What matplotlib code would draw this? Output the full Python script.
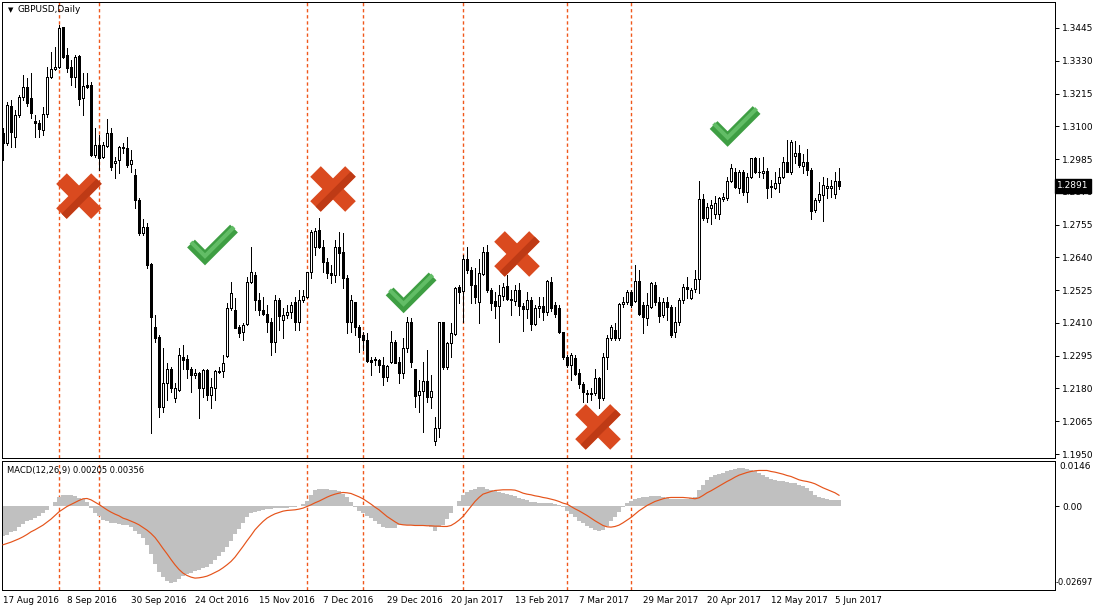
import numpy as np
import matplotlib
matplotlib.use('Agg')
import matplotlib.pyplot as plt

plt.rcParams['font.family'] = ['DejaVu Sans']
plt.rcParams['lines.scale_dashes'] = False

#--- daily candles GBPUSD (bar index 0 = 17 Aug 2016)
opens = [
    1.3075, 1.3040, 1.3171, 1.3064, 1.3140, 1.3202, 1.3237, 1.3198, 1.3119, 1.3110,
    1.3087, 1.3142, 1.3274, 1.3301, 1.3309, 1.3447, 1.3350, 1.3307, 1.3274, 1.3347,
    1.3198, 1.3245, 1.3245, 1.2999, 1.3034, 1.2991, 1.3031, 1.3075, 1.2970, 1.2982,
    1.3023, 1.3023, 1.2968, 1.2929, 1.2841, 1.2727, 1.2745, 1.2617, 1.2394, 1.2362,
    1.2116, 1.2198, 1.2250, 1.2147, 1.2174, 1.2291, 1.2283, 1.2248, 1.2227, 1.2233,
    1.2183, 1.2245, 1.2157, 1.2180, 1.2239, 1.2241, 1.2295, 1.2461, 1.2455, 1.2397,
    1.2377, 1.2405, 1.2555, 1.2578, 1.2490, 1.2455, 1.2440, 1.2414, 1.2342, 1.2490,
    1.2420, 1.2438, 1.2449, 1.2482, 1.2412, 1.2490, 1.2502, 1.2590, 1.2677, 1.2736,
    1.2677, 1.2625, 1.2584, 1.2578, 1.2677, 1.2660, 1.2566, 1.2414, 1.2482, 1.2397,
    1.2367, 1.2350, 1.2280, 1.2283, 1.2280, 1.2264, 1.2221, 1.2274, 1.2342, 1.2274,
    1.2233, 1.2321, 1.2414, 1.2248, 1.2157, 1.2171, 1.2206, 1.2151, 1.1995, 1.2040,
    1.2412, 1.2256, 1.2338, 1.2370, 1.2537, 1.2522, 1.2636, 1.2596, 1.2543, 1.2482,
    1.2580, 1.2660, 1.2525, 1.2487, 1.2469, 1.2505, 1.2541, 1.2494, 1.2487, 1.2525,
    1.2470, 1.2459, 1.2490, 1.2405, 1.2463, 1.2470, 1.2447, 1.2555, 1.2473, 1.2461,
    1.2377, 1.2291, 1.2264, 1.2288, 1.2233, 1.2194, 1.2163, 1.2159, 1.2163, 1.2215,
    1.2145, 1.2291, 1.2356, 1.2385, 1.2356, 1.2475, 1.2482, 1.2519, 1.2487, 1.2557,
    1.2473, 1.2429, 1.2467, 1.2543, 1.2482, 1.2438, 1.2482, 1.2467, 1.2379, 1.2412,
    1.2490, 1.2535, 1.2496, 1.2529, 1.2564, 1.2845, 1.2779, 1.2814, 1.2794, 1.2794,
    1.2845, 1.2849, 1.2908, 1.2938, 1.2885, 1.2941, 1.2870, 1.2923, 1.2990, 1.2941,
    1.2935, 1.2943, 1.2892, 1.2885, 1.2900, 1.2923, 1.2976, 1.2941, 1.2997, 1.3005,
    1.2962, 1.2973, 1.2947, 1.2806, 1.2841, 1.2859, 1.2882, 1.2882, 1.2861, 1.2908,
]
highs = [
    1.3093, 1.3186, 1.3192, 1.3157, 1.3210, 1.3280, 1.3268, 1.3286, 1.3140, 1.3122,
    1.3167, 1.3309, 1.3362, 1.3380, 1.3456, 1.3450, 1.3374, 1.3333, 1.3350, 1.3350,
    1.3286, 1.3286, 1.3257, 1.3093, 1.3069, 1.3046, 1.3124, 1.3093, 1.2993, 1.3031,
    1.3040, 1.3061, 1.3017, 1.2949, 1.2847, 1.2773, 1.2759, 1.2621, 1.2438, 1.2367,
    1.2321, 1.2268, 1.2256, 1.2198, 1.2323, 1.2332, 1.2297, 1.2256, 1.2250, 1.2239,
    1.2250, 1.2249, 1.2215, 1.2245, 1.2256, 1.2297, 1.2479, 1.2555, 1.2496, 1.2403,
    1.2408, 1.2572, 1.2677, 1.2590, 1.2514, 1.2502, 1.2473, 1.2426, 1.2508, 1.2496,
    1.2461, 1.2473, 1.2485, 1.2502, 1.2525, 1.2525, 1.2590, 1.2736, 1.2742, 1.2777,
    1.2701, 1.2637, 1.2613, 1.2701, 1.2730, 1.2724, 1.2578, 1.2508, 1.2484, 1.2402,
    1.2379, 1.2373, 1.2291, 1.2291, 1.2283, 1.2291, 1.2262, 1.2381, 1.2350, 1.2291,
    1.2356, 1.2432, 1.2426, 1.2250, 1.2209, 1.2274, 1.2315, 1.2227, 1.2081, 1.2414,
    1.2414, 1.2344, 1.2408, 1.2537, 1.2543, 1.2648, 1.2677, 1.2607, 1.2601, 1.2636,
    1.2677, 1.2683, 1.2531, 1.2519, 1.2543, 1.2549, 1.2578, 1.2525, 1.2543, 1.2549,
    1.2479, 1.2519, 1.2502, 1.2473, 1.2502, 1.2502, 1.2560, 1.2572, 1.2482, 1.2473,
    1.2379, 1.2297, 1.2303, 1.2297, 1.2250, 1.2204, 1.2174, 1.2180, 1.2250, 1.2221,
    1.2303, 1.2367, 1.2402, 1.2408, 1.2479, 1.2502, 1.2525, 1.2525, 1.2615, 1.2596,
    1.2484, 1.2514, 1.2555, 1.2555, 1.2502, 1.2496, 1.2502, 1.2473, 1.2467, 1.2496,
    1.2545, 1.2572, 1.2531, 1.2596, 1.2908, 1.2861, 1.2830, 1.2841, 1.2856, 1.2853,
    1.2865, 1.2923, 1.2966, 1.2952, 1.2947, 1.2947, 1.2935, 1.2990, 1.2993, 1.2988,
    1.2993, 1.2955, 1.2912, 1.2941, 1.2952, 1.2993, 1.3052, 1.3052, 1.3048, 1.3034,
    1.3002, 1.3020, 1.2952, 1.2849, 1.2906, 1.2923, 1.2917, 1.2911, 1.2941, 1.2952,
]
lows = [
    1.2982, 1.3034, 1.3026, 1.3029, 1.3134, 1.3192, 1.3171, 1.3128, 1.3064, 1.3064,
    1.3069, 1.3134, 1.3268, 1.3298, 1.3303, 1.3339, 1.3292, 1.3245, 1.3239, 1.3175,
    1.3140, 1.3233, 1.2996, 1.2993, 1.2947, 1.2988, 1.3029, 1.2947, 1.2917, 1.2935,
    1.3005, 1.2958, 1.2941, 1.2812, 1.2718, 1.2718, 1.2601, 1.2022, 1.2344, 1.2081,
    1.2098, 1.2139, 1.2169, 1.2133, 1.2172, 1.2250, 1.2215, 1.2169, 1.2215, 1.2075,
    1.2151, 1.2139, 1.2110, 1.2139, 1.2233, 1.2221, 1.2291, 1.2455, 1.2391, 1.2362,
    1.2350, 1.2403, 1.2549, 1.2455, 1.2438, 1.2438, 1.2379, 1.2297, 1.2309, 1.2385,
    1.2356, 1.2426, 1.2426, 1.2385, 1.2385, 1.2484, 1.2498, 1.2566, 1.2648, 1.2672,
    1.2590, 1.2566, 1.2549, 1.2555, 1.2578, 1.2531, 1.2373, 1.2379, 1.2367, 1.2309,
    1.2315, 1.2274, 1.2227, 1.2262, 1.2239, 1.2192, 1.2206, 1.2271, 1.2268, 1.2198,
    1.2215, 1.2309, 1.2256, 1.2116, 1.2098, 1.2028, 1.2133, 1.2112, 1.1981, 1.2011,
    1.2250, 1.2250, 1.2291, 1.2367, 1.2479, 1.2414, 1.2584, 1.2479, 1.2479, 1.2408,
    1.2578, 1.2519, 1.2455, 1.2426, 1.2344, 1.2490, 1.2490, 1.2438, 1.2473, 1.2438,
    1.2381, 1.2426, 1.2385, 1.2402, 1.2432, 1.2420, 1.2438, 1.2452, 1.2432, 1.2373,
    1.2285, 1.2256, 1.2209, 1.2227, 1.2180, 1.2133, 1.2133, 1.2139, 1.2157, 1.2110,
    1.2140, 1.2250, 1.2350, 1.2350, 1.2350, 1.2467, 1.2475, 1.2467, 1.2484, 1.2438,
    1.2373, 1.2402, 1.2461, 1.2473, 1.2414, 1.2432, 1.2420, 1.2362, 1.2362, 1.2402,
    1.2479, 1.2496, 1.2494, 1.2519, 1.2514, 1.2771, 1.2765, 1.2756, 1.2777, 1.2775,
    1.2838, 1.2841, 1.2903, 1.2882, 1.2865, 1.2859, 1.2833, 1.2920, 1.2935, 1.2923,
    1.2917, 1.2849, 1.2853, 1.2880, 1.2870, 1.2917, 1.2938, 1.2931, 1.2970, 1.2958,
    1.2935, 1.2929, 1.2775, 1.2798, 1.2835, 1.2768, 1.2849, 1.2853, 1.2847, 1.2880,
]
closes = [
    1.3043, 1.3175, 1.3081, 1.3140, 1.3202, 1.3237, 1.3181, 1.3146, 1.3110, 1.3089,
    1.3142, 1.3274, 1.3300, 1.3309, 1.3444, 1.3344, 1.3303, 1.3274, 1.3344, 1.3195,
    1.3241, 1.3239, 1.2999, 1.3034, 1.2988, 1.3034, 1.3078, 1.2958, 1.2978, 1.3029,
    1.3029, 1.2964, 1.2982, 1.2841, 1.2724, 1.2745, 1.2613, 1.2432, 1.2356, 1.2116,
    1.2198, 1.2250, 1.2180, 1.2180, 1.2297, 1.2280, 1.2248, 1.2227, 1.2233, 1.2183,
    1.2245, 1.2157, 1.2186, 1.2241, 1.2242, 1.2268, 1.2461, 1.2514, 1.2393, 1.2373,
    1.2403, 1.2552, 1.2590, 1.2490, 1.2455, 1.2440, 1.2414, 1.2342, 1.2490, 1.2435,
    1.2438, 1.2447, 1.2473, 1.2414, 1.2490, 1.2506, 1.2587, 1.2728, 1.2733, 1.2677,
    1.2625, 1.2584, 1.2578, 1.2677, 1.2654, 1.2566, 1.2414, 1.2490, 1.2397, 1.2362,
    1.2350, 1.2276, 1.2274, 1.2280, 1.2264, 1.2221, 1.2259, 1.2344, 1.2271, 1.2233,
    1.2321, 1.2414, 1.2274, 1.2154, 1.2171, 1.2206, 1.2151, 1.2171, 1.2042, 1.2412,
    1.2256, 1.2338, 1.2373, 1.2534, 1.2519, 1.2636, 1.2596, 1.2543, 1.2502, 1.2584,
    1.2660, 1.2525, 1.2479, 1.2469, 1.2508, 1.2537, 1.2494, 1.2489, 1.2525, 1.2470,
    1.2459, 1.2490, 1.2405, 1.2463, 1.2469, 1.2447, 1.2557, 1.2461, 1.2440, 1.2377,
    1.2291, 1.2262, 1.2297, 1.2229, 1.2194, 1.2166, 1.2159, 1.2163, 1.2215, 1.2145,
    1.2291, 1.2356, 1.2397, 1.2356, 1.2475, 1.2484, 1.2519, 1.2473, 1.2557, 1.2443,
    1.2432, 1.2473, 1.2549, 1.2482, 1.2435, 1.2482, 1.2467, 1.2367, 1.2414, 1.2490,
    1.2537, 1.2529, 1.2525, 1.2564, 1.2845, 1.2779, 1.2818, 1.2824, 1.2830, 1.2847,
    1.2853, 1.2908, 1.2952, 1.2888, 1.2941, 1.2870, 1.2923, 1.2988, 1.2941, 1.2938,
    1.2943, 1.2885, 1.2888, 1.2900, 1.2923, 1.2976, 1.2941, 1.3044, 1.3005, 1.2964,
    1.2973, 1.2947, 1.2803, 1.2841, 1.2861, 1.2894, 1.2890, 1.2890, 1.2908, 1.2891,
]

#--- MACD(12,26,9): main (histogram) and signal
macd_main = [
    -0.00972, -0.00918, -0.00843, -0.00790, -0.00682, -0.00564, -0.00489, -0.00435, -0.00392, -0.00317,
    -0.00220, -0.00113, -0.00005, 0.00134, 0.00285, 0.00349, 0.00371, 0.00371, 0.00328, 0.00263,
    0.00220, 0.00124, -0.00059, -0.00220, -0.00328, -0.00435, -0.00489, -0.00532, -0.00553, -0.00575,
    -0.00596, -0.00618, -0.00682, -0.00790, -0.00897, -0.01026, -0.01262, -0.01541, -0.01863, -0.02121,
    -0.02293, -0.02400, -0.02476, -0.02443, -0.02336, -0.02250, -0.02186, -0.02153, -0.02100, -0.02057,
    -0.02003, -0.01949, -0.01853, -0.01745, -0.01595, -0.01477, -0.01316, -0.01112, -0.00897, -0.00725,
    -0.00532, -0.00360, -0.00231, -0.00177, -0.00145, -0.00124, -0.00102, -0.00081, -0.00070, -0.00059,
    -0.00059, -0.00048, -0.00038, -0.00027, 0.00005, 0.00059, 0.00177, 0.00371, 0.00521, 0.00553,
    0.00553, 0.00542, 0.00532, 0.00521, 0.00489, 0.00392, 0.00285, 0.00134, -0.00016, -0.00145,
    -0.00231, -0.00317, -0.00381, -0.00467, -0.00575, -0.00661, -0.00693, -0.00704, -0.00704, -0.00618,
    -0.00596, -0.00596, -0.00607, -0.00618, -0.00618, -0.00628, -0.00650, -0.00682, -0.00811, -0.00682,
    -0.00618, -0.00403, -0.00220, -0.00005, 0.00156, 0.00349, 0.00456, 0.00510, 0.00542, 0.00628,
    0.00628, 0.00564, 0.00521, 0.00478, 0.00456, 0.00435, 0.00392, 0.00360, 0.00317, 0.00274,
    0.00231, 0.00188, 0.00145, 0.00124, 0.00102, 0.00102, 0.00102, 0.00091, 0.00070, 0.00027,
    -0.00038, -0.00145, -0.00252, -0.00360, -0.00467, -0.00553, -0.00639, -0.00704, -0.00757, -0.00790,
    -0.00768, -0.00639, -0.00489, -0.00360, -0.00188, -0.00038, 0.00091, 0.00156, 0.00231, 0.00263,
    0.00285, 0.00306, 0.00328, 0.00338, 0.00317, 0.00285, 0.00263, 0.00242, 0.00231, 0.00231,
    0.00231, 0.00231, 0.00252, 0.00285, 0.00532, 0.00671, 0.00843, 0.00929, 0.00993, 0.01036,
    0.01079, 0.01133, 0.01176, 0.01208, 0.01230, 0.01219, 0.01187, 0.01165, 0.01122, 0.01069,
    0.01015, 0.00929, 0.00865, 0.00832, 0.00800, 0.00800, 0.00779, 0.00757, 0.00736, 0.00693,
    0.00661, 0.00585, 0.00499, 0.00371, 0.00306, 0.00252, 0.00230, 0.00215, 0.00210, 0.00205,
]
macd_signal = [
    -0.01240, -0.01198, -0.01155, -0.01101, -0.01047, -0.00983, -0.00908, -0.00822, -0.00757, -0.00682,
    -0.00607, -0.00510, -0.00413, -0.00295, -0.00177, -0.00091, -0.00005, 0.00059, 0.00124, 0.00188,
    0.00242, 0.00252, 0.00209, 0.00134, 0.00059, -0.00027, -0.00113, -0.00188, -0.00252, -0.00306,
    -0.00381, -0.00424, -0.00478, -0.00532, -0.00596, -0.00682, -0.00768, -0.00875, -0.01004, -0.01176,
    -0.01359, -0.01530, -0.01713, -0.01885, -0.02035, -0.02153, -0.02229, -0.02282, -0.02314, -0.02304,
    -0.02282, -0.02250, -0.02196, -0.02132, -0.02067, -0.01982, -0.01885, -0.01777, -0.01638, -0.01466,
    -0.01294, -0.01112, -0.00940, -0.00757, -0.00618, -0.00489, -0.00381, -0.00306, -0.00242, -0.00199,
    -0.00156, -0.00134, -0.00124, -0.00113, -0.00091, -0.00059, -0.00005, 0.00048, 0.00113, 0.00166,
    0.00231, 0.00295, 0.00349, 0.00392, 0.00424, 0.00446, 0.00435, 0.00413, 0.00360, 0.00306,
    0.00242, 0.00156, 0.00070, -0.00027, -0.00113, -0.00220, -0.00328, -0.00413, -0.00499, -0.00575,
    -0.00596, -0.00607, -0.00607, -0.00618, -0.00618, -0.00618, -0.00628, -0.00628, -0.00639, -0.00639,
    -0.00650, -0.00650, -0.00618, -0.00542, -0.00446, -0.00328, -0.00166, -0.00005, 0.00156, 0.00285,
    0.00392, 0.00435, 0.00478, 0.00510, 0.00521, 0.00532, 0.00532, 0.00532, 0.00521, 0.00478,
    0.00424, 0.00392, 0.00371, 0.00338, 0.00317, 0.00285, 0.00263, 0.00231, 0.00199, 0.00156,
    0.00102, 0.00070, -0.00005, -0.00081, -0.00145, -0.00220, -0.00295, -0.00381, -0.00467, -0.00542,
    -0.00618, -0.00661, -0.00671, -0.00650, -0.00607, -0.00532, -0.00446, -0.00360, -0.00252, -0.00145,
    -0.00059, 0.00027, 0.00091, 0.00156, 0.00199, 0.00242, 0.00274, 0.00285, 0.00285, 0.00285,
    0.00285, 0.00274, 0.00263, 0.00242, 0.00274, 0.00349, 0.00435, 0.00499, 0.00575, 0.00650,
    0.00725, 0.00800, 0.00865, 0.00940, 0.01004, 0.01047, 0.01090, 0.01122, 0.01144, 0.01155,
    0.01155, 0.01155, 0.01122, 0.01101, 0.01069, 0.01036, 0.00993, 0.00961, 0.00908, 0.00854,
    0.00822, 0.00800, 0.00768, 0.00725, 0.00661, 0.00596, 0.00542, 0.00489, 0.00435, 0.00356,
]

date_labels = ['17 Aug 2016', '8 Sep 2016', '30 Sep 2016', '24 Oct 2016', '15 Nov 2016',
               '7 Dec 2016', '29 Dec 2016', '20 Jan 2017', '13 Feb 2017', '7 Mar 2017',
               '29 Mar 2017', '20 Apr 2017', '12 May 2017', '5 Jun 2017']
date_pos = [0, 16, 32, 48, 64, 80, 96, 112, 128, 144, 160, 176, 192, 208]
price_ticks = [1.1950, 1.2065, 1.2180, 1.2295, 1.2410, 1.2525, 1.2640,
               1.2755, 1.2870, 1.2985, 1.3100, 1.3215, 1.3330, 1.3445]
last_price = 1.2891
macd_max, macd_min = 0.0146, -0.02697
signal_bars = [14, 24, 76, 90, 115, 141, 157]

# marker positions (bar index, price)
crosses = [(19, 1.2855), (82.5, 1.2880), (128.5, 1.2652), (148.75, 1.2045)]
checks = [(52.25, 1.2685), (101.9, 1.2517), (182.9, 1.3101)]

#--- figure (pixel layout of the screenshot)
W, H = 1094, 611
fig = plt.figure(figsize=(W / 100, H / 100), dpi=100)
ax = fig.add_axes([2 / W, 1 - 458 / H, 1053 / W, 456 / H])
ax2 = fig.add_axes([2 / W, 1 - 590 / H, 1053 / W, 129 / H])

PX = 0.25                # bars per pixel
PY = 0.0115 / 32.77      # price per pixel
LW1 = 0.72               # 1 px in points
FS = 6.3                 # label font size
FS_AX = 6.5

idx = np.arange(len(closes))
o = np.array(opens); c = np.array(closes)
hi = np.array(highs); lo = np.array(lows)

ax.vlines(idx, lo, hi, color='black', lw=LW1, antialiased=False, zorder=2)
body_lo = np.minimum(o, c)
body_h = np.maximum(np.abs(c - o), 0.00004)
face = ['white' if cc >= oo else 'black' for oo, cc in zip(o, c)]
ax.bar(idx, body_h, bottom=body_lo, width=0.5, color=face, edgecolor='black',
       linewidth=LW1, antialiased=False, zorder=3)

ax.set_xlim(-0.25, 263)
ax.set_ylim(1.1950 - 4 * PY, 1.3445 + 26 * PY)
ax.yaxis.tick_right()
ax.set_yticks(price_ticks)
ax.set_yticklabels(['%.4f' % t for t in price_ticks])
ax.tick_params(axis='y', direction='out', length=3, width=LW1, pad=2, labelsize=FS_AX)
ax.set_xticks([])

ax.text(1.0 + 2 / 1053, last_price, '%.4f' % last_price, transform=ax.get_yaxis_transform(),
        color='white', fontsize=FS_AX, va='center', ha='left', zorder=10, clip_on=False,
        bbox=dict(boxstyle='square,pad=0.25', facecolor='black', edgecolor='black'))

#--- MACD pane
ax2.bar(idx, macd_main, width=1.0, color='#C0C0C0', linewidth=0, zorder=2)
ax2.plot(idx, macd_signal, color='#E5531A', lw=0.85, zorder=3)
ax2.set_xlim(-0.25, 263)
ax2.set_ylim(macd_min, macd_max)
ax2.yaxis.tick_right()
ax2.set_yticks([0.0])
ax2.set_yticklabels(['0.00'])
ax2.tick_params(axis='y', direction='out', length=3, width=LW1, pad=2, labelsize=FS_AX)
ax2.set_xticks(date_pos)
ax2.set_xticklabels(date_labels, ha='left')
ax2.tick_params(axis='x', length=0, pad=4, labelsize=FS)
ax2.text(1.0 + 4 / 1053, 1.0 - 1 / 129, '%.4f' % macd_max, transform=ax2.transAxes,
         fontsize=FS_AX, va='top', ha='left', clip_on=False)
ax2.text(1.0 + 1 / 1053, 0.02, '%.5f' % macd_min, transform=ax2.transAxes,
         fontsize=6.0, va='bottom', ha='left', clip_on=False)

for a in (ax, ax2):
    for s in a.spines.values():
        s.set_linewidth(LW1)
    for b in signal_bars:
        a.axvline(b, color='#F0581C', lw=1.0, linestyle=(0, (2.4, 2.0)), zorder=1)

#--- labels
fig.text(8 / W, 1 - 10 / H, '\u25bc', fontsize=5, va='center', ha='left')
fig.text(18 / W, 1 - 10 / H, 'GBPUSD,Daily', fontsize=FS_AX, va='center', ha='left')
fig.text(7 / W, 1 - 470 / H, 'MACD(12,26,9) %.5f %.5f' % (macd_main[-1], macd_signal[-1]),
         fontsize=6.0, va='center', ha='left')

#--- cross / check marks
def draw_cross(x0, y0):
    d = 17.5
    ax.plot([x0 - d * PX, x0 + d * PX], [y0 + d * PY, y0 - d * PY], color='#DA4A1F',
            lw=15 * LW1, solid_capstyle='butt', zorder=6)
    ax.plot([x0 - d * PX, x0 + d * PX], [y0 - d * PY, y0 + d * PY], color='#DA4A1F',
            lw=15 * LW1, solid_capstyle='butt', zorder=6)
    off = 3.7
    ax.plot([x0 - d * PX + off * PX * 0.7, x0 + d * PX + off * PX * 0.7],
            [y0 - d * PY - off * PY * 0.7, y0 + d * PY - off * PY * 0.7],
            color='#BE3A15', lw=7 * LW1, solid_capstyle='butt', zorder=6)

def draw_check(x0, y0):
    pts = [(-21, -1), (-7, 13), (22, -16)]
    xs = [x0 + dx * PX for dx, dy in pts]
    ys = [y0 - dy * PY for dx, dy in pts]
    ax.plot(xs, ys, color='#3E9E43', lw=11 * LW1, solid_capstyle='butt',
            solid_joinstyle='miter', zorder=6)
    ax.plot(xs, [y + 1.5 * PY for y in ys], color='#62BD66', lw=4 * LW1,
            solid_capstyle='butt', solid_joinstyle='miter', zorder=7)

for x0, y0 in crosses:
    draw_cross(x0, y0)
for x0, y0 in checks:
    draw_check(x0, y0)

plt.savefig('out.png', dpi=100)
